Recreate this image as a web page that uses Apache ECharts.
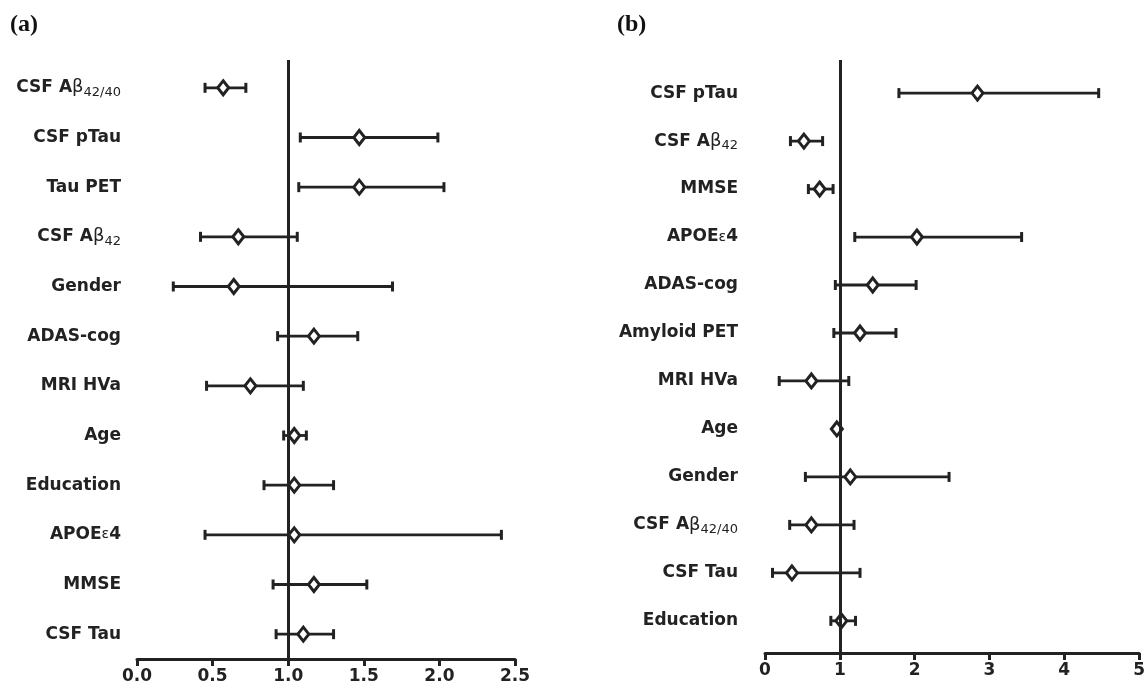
<!DOCTYPE html>
<html>
<head>
<meta charset="utf-8">
<style>
  html, body { margin: 0; padding: 0; background: #fff; }
  #chart { width: 1148px; height: 688px; }
</style>
<script src="https://cdn.jsdelivr.net/npm/echarts@6/dist/echarts.min.js"></script>
</head>
<body>
<div id="chart"></div>
<script>
// ---- Panel (a) data ----
const catsA = ['CSF Aβ42/40', 'CSF pTau', 'Tau PET', 'CSF Aβ42', 'Gender', 'ADAS-cog', 'MRI HVa', 'Age', 'Education', 'APOEε4', 'MMSE', 'CSF Tau'];
const orA   = [0.57, 1.47, 1.47, 0.67, 0.64, 1.17, 0.75, 1.04, 1.04, 1.04, 1.17, 1.10];
const loA   = [0.45, 1.08, 1.07, 0.42, 0.24, 0.93, 0.46, 0.97, 0.84, 0.45, 0.90, 0.92];
const hiA   = [0.72, 1.99, 2.03, 1.06, 1.69, 1.46, 1.10, 1.12, 1.30, 2.41, 1.52, 1.30];
const ticksA = [0.0, 0.5, 1.0, 1.5, 2.0, 2.5];

// ---- Panel (b) data ----
const catsB = ['CSF pTau', 'CSF Aβ42', 'MMSE', 'APOEε4', 'ADAS-cog', 'Amyloid PET', 'MRI HVa', 'Age', 'Gender', 'CSF Aβ42/40', 'CSF Tau', 'Education'];
const orB   = [2.84, 0.52, 0.73, 2.03, 1.44, 1.27, 0.62, 0.96, 1.14, 0.62, 0.36, 1.02];
const loB   = [1.79, 0.34, 0.58, 1.20, 0.94, 0.92, 0.19, 0.94, 0.54, 0.33, 0.10, 0.88];
const hiB   = [4.46, 0.77, 0.91, 3.43, 2.02, 1.75, 1.12, 0.98, 2.46, 1.19, 1.27, 1.21];
const ticksB = [0, 1, 2, 3, 4, 5];

const refValue = 1;
const INK = '#222';
const FONT = 'DejaVu Sans';

function richLabel(name) {
  // render subscripts / greek letters with rich text
  let m = name.match(/^(.*A)β(42\/40|42)$/);
  if (m) return '{t|' + m[1] + '}{g|β}{s|' + m[2] + '}';
  m = name.match(/^(APOE)ε(4)$/);
  if (m) return '{t|' + m[1] + '}{e|ε}{t|' + m[2] + '}';
  return '{t|' + name + '}';
}

const rich = {
  t: { fontFamily: FONT, fontWeight: 'bold', fontSize: 17, color: INK, lineHeight: 22 },
  g: { fontFamily: FONT, fontWeight: 'normal', fontSize: 18, color: INK, lineHeight: 22 },
  s: { fontFamily: FONT, fontWeight: 'normal', fontSize: 13, color: INK, lineHeight: 14, verticalAlign: 'bottom' },
  e: { fontFamily: FONT, fontWeight: 'normal', fontSize: 14, color: INK, lineHeight: 22 }
};

function renderBar(params, api) {
  const y = api.value(2);
  const p1 = api.coord([api.value(0), y]);
  const p2 = api.coord([api.value(1), y]);
  const h = 5;
  return {
    type: 'group',
    children: [
      { type: 'line', shape: { x1: p1[0], y1: p1[1], x2: p2[0], y2: p2[1] }, style: { stroke: INK, lineWidth: 2.8 } },
      { type: 'line', shape: { x1: p1[0], y1: p1[1] - h, x2: p1[0], y2: p1[1] + h }, style: { stroke: INK, lineWidth: 3 } },
      { type: 'line', shape: { x1: p2[0], y1: p2[1] - h, x2: p2[0], y2: p2[1] + h }, style: { stroke: INK, lineWidth: 3 } }
    ]
  };
}

function xAxisCfg(idx, ticks, fmt) {
  return {
    gridIndex: idx, type: 'value',
    min: ticks[0], max: ticks[ticks.length - 1], interval: ticks[1] - ticks[0],
    axisLine: { show: true, onZero: false, lineStyle: { color: INK, width: 3 } },
    axisTick: { show: true, length: 7, lineStyle: { color: INK, width: 3 } },
    axisLabel: { formatter: fmt, fontFamily: FONT, fontWeight: 'bold', fontSize: 17, color: INK, margin: 9 },
    splitLine: { show: false }
  };
}

function yAxisCfg(idx, cats, min, max, margin) {
  return {
    gridIndex: idx, type: 'value', inverse: true, min: min, max: max,
    axisLine: { show: false, onZero: false },
    axisTick: { show: false },
    splitLine: { show: false },
    axisLabel: {
      customValues: cats.map((c, i) => i),
      formatter: v => richLabel(cats[Math.round(v)]),
      rich: rich, margin: margin
    }
  };
}

function seriesFor(idx, lo, hi, or) {
  return [
    {
      type: 'custom', xAxisIndex: idx, yAxisIndex: idx,
      renderItem: renderBar,
      encode: { x: [0, 1], y: 2 },
      data: lo.map((l, i) => [l, hi[i], i]),
      silent: true, z: 3
    },
    {
      type: 'scatter', xAxisIndex: idx, yAxisIndex: idx,
      symbol: 'diamond', symbolSize: [11, 14],
      itemStyle: { color: '#fff', borderColor: INK, borderWidth: 3, opacity: 1 },
      data: or.map((v, i) => [v, i]),
      z: 4,
      markLine: {
        silent: true, symbol: 'none', label: { show: false },
        lineStyle: { type: 'solid', color: INK, width: 3 },
        data: [{ xAxis: refValue }]
      }
    }
  ];
}

const chart = echarts.init(document.getElementById('chart'), null, { renderer: 'canvas' });
chart.setOption({
  animation: false,
  backgroundColor: '#fff',
  grid: [
    { left: 137, right: 633, top: 60, bottom: 29 },
    { left: 765, right: 7, top: 60, bottom: 35 }
  ],
  xAxis: [
    xAxisCfg(0, ticksA, v => v.toFixed(1)),
    xAxisCfg(1, ticksB, v => String(v))
  ],
  yAxis: [
    yAxisCfg(0, catsA, -0.56, 11.5, 16),
    yAxisCfg(1, catsB, -0.69, 11.67, 27)
  ],
  graphic: [
    { type: 'text', left: 10, top: 13, style: { text: '(a)', font: 'bold 24px "Liberation Serif"', fill: '#111' } },
    { type: 'text', left: 617, top: 13, style: { text: '(b)', font: 'bold 24px "Liberation Serif"', fill: '#111' } }
  ],
  series: [].concat(seriesFor(0, loA, hiA, orA), seriesFor(1, loB, hiB, orB))
});
</script>
</body>
</html>
